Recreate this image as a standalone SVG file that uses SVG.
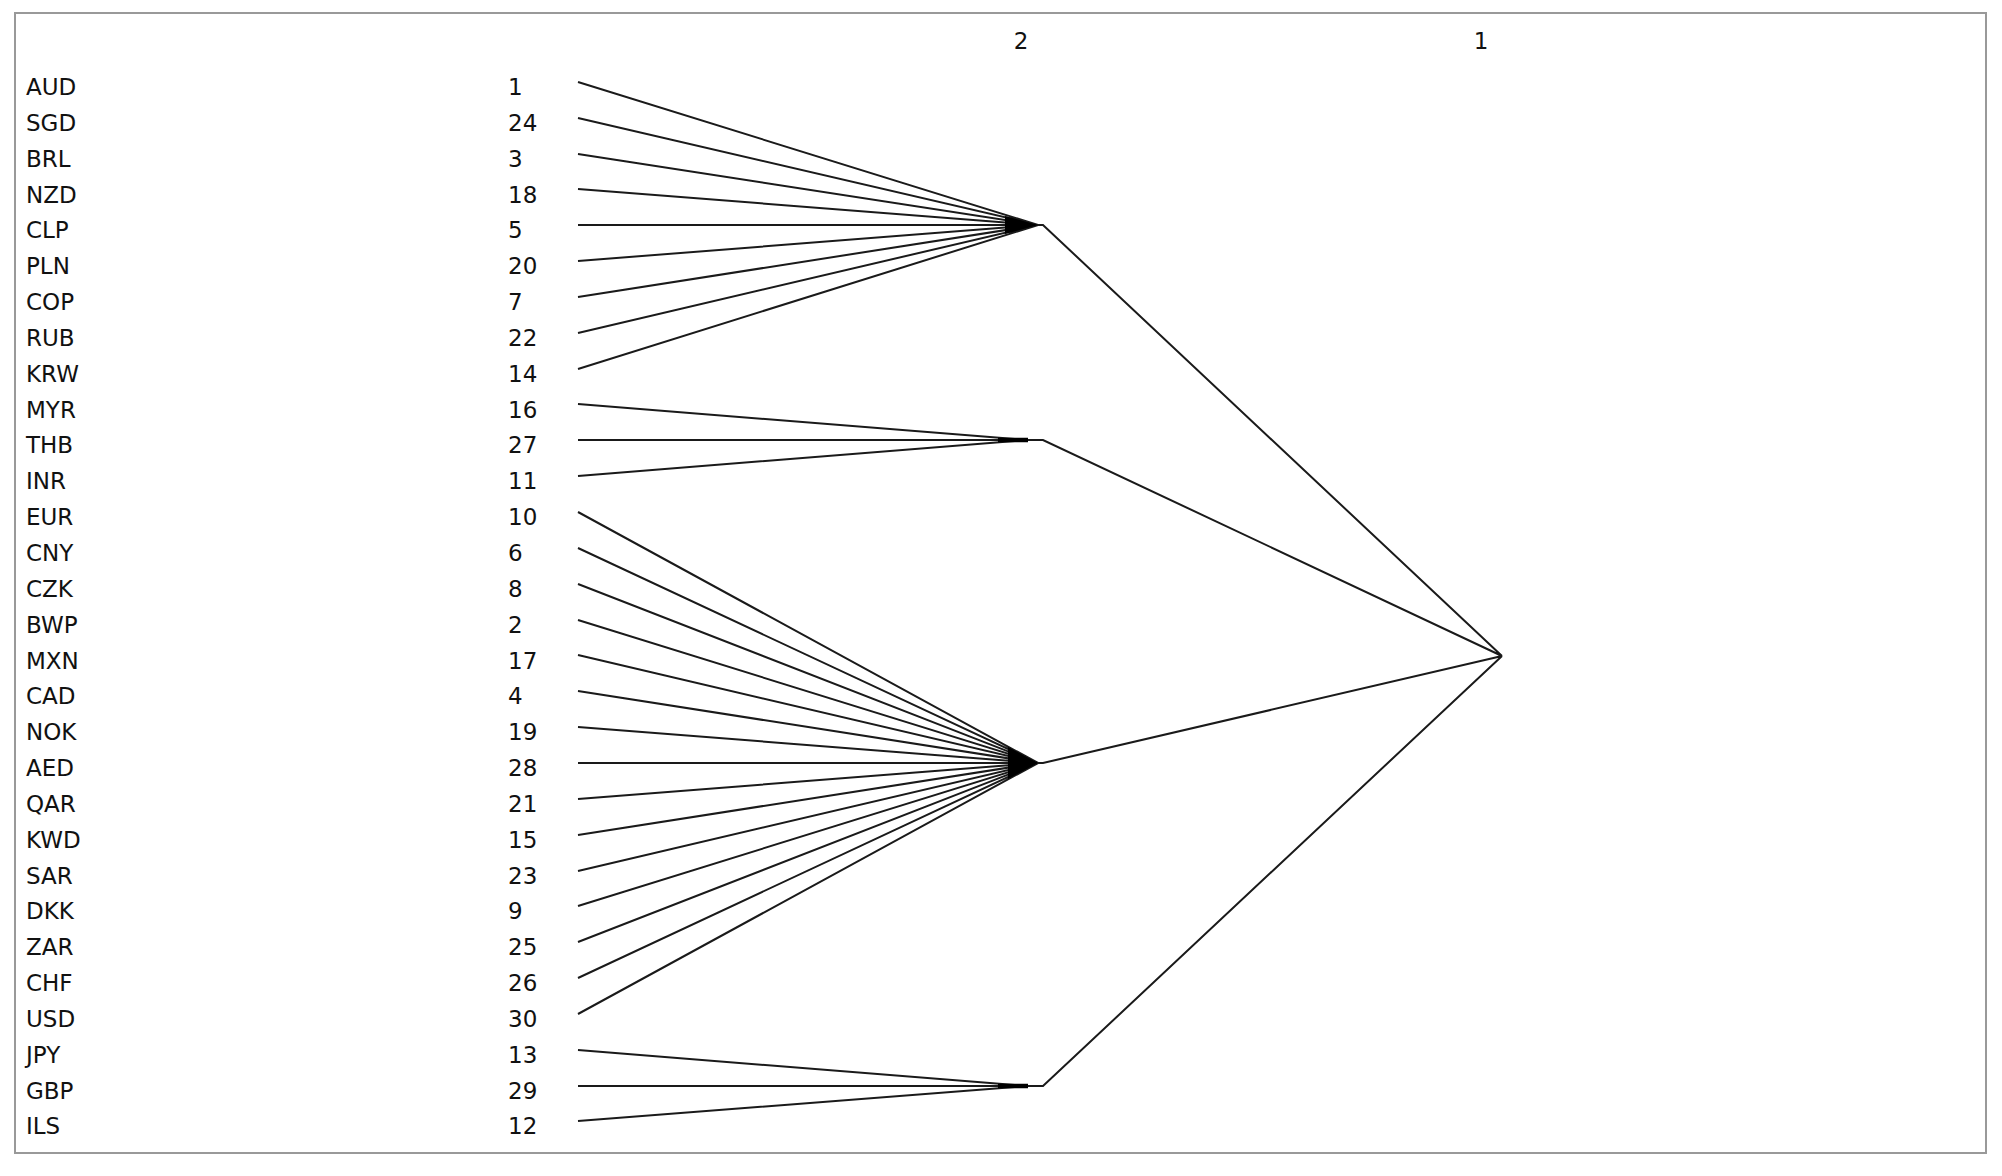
<svg xmlns="http://www.w3.org/2000/svg" width="2002" height="1176" viewBox="0 0 2002 1176">
<style>
text{font-family:"DejaVu Sans","Liberation Sans",sans-serif;font-size:23px;fill:#111}
.n{text-anchor:start}
.h{text-anchor:middle}
.e{fill:none;stroke:#1a1a1a;stroke-width:2}
.w{fill:#000;stroke:none}
.frame{fill:#fff;stroke:#999;stroke-width:2}
</style>
<rect width="2002" height="1176" fill="#fff"/>
<rect class="frame" x="15" y="13" width="1971" height="1140"/>
<g id="headers">
<text class="h" x="1021" y="49">2</text>
<text class="h" x="1481" y="49">1</text>
</g>
<g id="leaves">
<g id="n-AUD"><text x="26" y="95">AUD</text><text class="n" x="508" y="95">1</text></g>
<g id="n-SGD"><text x="26" y="131">SGD</text><text class="n" x="508" y="131">24</text></g>
<g id="n-BRL"><text x="26" y="167">BRL</text><text class="n" x="508" y="167">3</text></g>
<g id="n-NZD"><text x="26" y="203">NZD</text><text class="n" x="508" y="203">18</text></g>
<g id="n-CLP"><text x="26" y="238">CLP</text><text class="n" x="508" y="238">5</text></g>
<g id="n-PLN"><text x="26" y="274">PLN</text><text class="n" x="508" y="274">20</text></g>
<g id="n-COP"><text x="26" y="310">COP</text><text class="n" x="508" y="310">7</text></g>
<g id="n-RUB"><text x="26" y="346">RUB</text><text class="n" x="508" y="346">22</text></g>
<g id="n-KRW"><text x="26" y="382">KRW</text><text class="n" x="508" y="382">14</text></g>
<g id="n-MYR"><text x="26" y="418">MYR</text><text class="n" x="508" y="418">16</text></g>
<g id="n-THB"><text x="26" y="453">THB</text><text class="n" x="508" y="453">27</text></g>
<g id="n-INR"><text x="26" y="489">INR</text><text class="n" x="508" y="489">11</text></g>
<g id="n-EUR"><text x="26" y="525">EUR</text><text class="n" x="508" y="525">10</text></g>
<g id="n-CNY"><text x="26" y="561">CNY</text><text class="n" x="508" y="561">6</text></g>
<g id="n-CZK"><text x="26" y="597">CZK</text><text class="n" x="508" y="597">8</text></g>
<g id="n-BWP"><text x="26" y="633">BWP</text><text class="n" x="508" y="633">2</text></g>
<g id="n-MXN"><text x="26" y="669">MXN</text><text class="n" x="508" y="669">17</text></g>
<g id="n-CAD"><text x="26" y="704">CAD</text><text class="n" x="508" y="704">4</text></g>
<g id="n-NOK"><text x="26" y="740">NOK</text><text class="n" x="508" y="740">19</text></g>
<g id="n-AED"><text x="26" y="776">AED</text><text class="n" x="508" y="776">28</text></g>
<g id="n-QAR"><text x="26" y="812">QAR</text><text class="n" x="508" y="812">21</text></g>
<g id="n-KWD"><text x="26" y="848">KWD</text><text class="n" x="508" y="848">15</text></g>
<g id="n-SAR"><text x="26" y="884">SAR</text><text class="n" x="508" y="884">23</text></g>
<g id="n-DKK"><text x="26" y="919">DKK</text><text class="n" x="508" y="919">9</text></g>
<g id="n-ZAR"><text x="26" y="955">ZAR</text><text class="n" x="508" y="955">25</text></g>
<g id="n-CHF"><text x="26" y="991">CHF</text><text class="n" x="508" y="991">26</text></g>
<g id="n-USD"><text x="26" y="1027">USD</text><text class="n" x="508" y="1027">30</text></g>
<g id="n-JPY"><text x="26" y="1063">JPY</text><text class="n" x="508" y="1063">13</text></g>
<g id="n-GBP"><text x="26" y="1099">GBP</text><text class="n" x="508" y="1099">29</text></g>
<g id="n-ILS"><text x="26" y="1134">ILS</text><text class="n" x="508" y="1134">12</text></g>
</g>
<g id="connectors">
<path class="e" d="M578 82L1038 225M578 118L1038 225M578 154L1038 225M578 189L1038 225M578 225L1038 225M578 261L1038 225M578 297L1038 225M578 333L1038 225M578 369L1038 225"/>
<path class="e" d="M578 404L1028 440M578 440L1028 440M578 476L1028 440"/>
<path class="e" d="M578 512L1038 763M578 548L1038 763M578 584L1038 763M578 620L1038 763M578 655L1038 763M578 691L1038 763M578 727L1038 763M578 763L1038 763M578 799L1038 763M578 835L1038 763M578 871L1038 763M578 906L1038 763M578 942L1038 763M578 978L1038 763M578 1014L1038 763"/>
<path class="e" d="M578 1050L1028 1086M578 1086L1028 1086M578 1121L1028 1086"/>
<path class="w" d="M1005 216L1038 225L1005 234Z"/>
<path class="w" d="M1008 747L1038 763L1008 779Z"/>
<path d="M998 440L1028 440M998 1086L1028 1086" stroke="#000" stroke-width="4.5" fill="none"/>
<path class="e" d="M1038 225L1043 225L1502 656M1028 440L1043 440L1502 656M1038 763L1043 763L1502 656M1028 1086L1043 1086L1502 656"/>
</g>
</svg>
